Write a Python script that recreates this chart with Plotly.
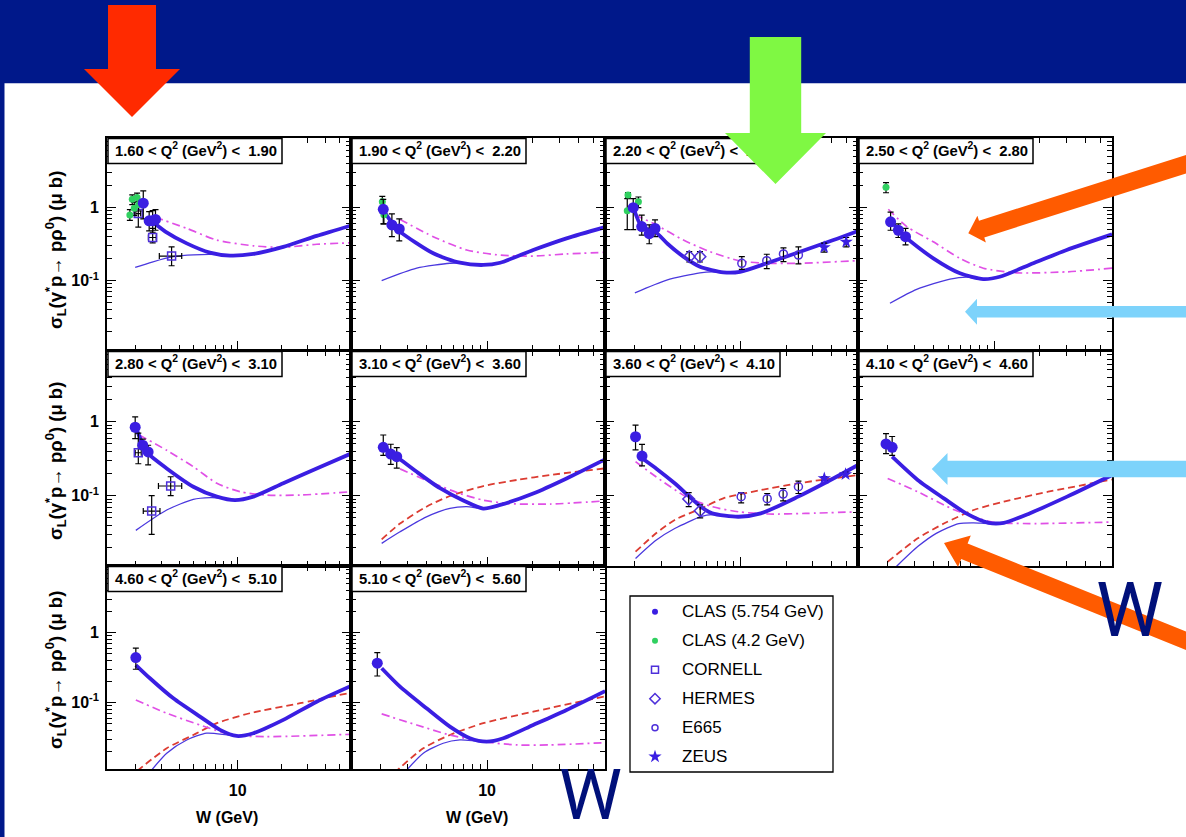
import math
import plotly.graph_objects as go

FIG_W, FIG_H = 1186, 837

# ---------------------------------------------------------------- data
Q2_LOW = [1.60, 1.90, 2.20, 2.50, 2.80, 3.10, 3.60, 4.10, 4.60, 5.10]
Q2_HIGH = [1.90, 2.20, 2.50, 2.80, 3.10, 3.60, 4.10, 4.60, 5.10, 5.60]

# model curves, one list per Q2 bin: W (GeV) and sigma_L (mub)
TOTAL_W = [
    [2.62, 3.2, 4.48, 6.45, 8.85, 12.8, 20.5, 34.7, 59.6],
    [2.08, 2.37, 2.68, 4.43, 6.63, 9.44, 12.2, 20.1, 33.3, 59.6],
    [1.96, 2.23, 2.73, 3.3, 4.2, 5.4, 7.7, 9.93, 14.9, 24.7, 41, 59.6],
    [2.07, 2.6, 3.99, 5.97, 8.5, 10.9, 18.1, 30, 59.6],
    [2.04, 2.24, 2.44, 3.27, 4.97, 7.2, 9.58, 12.8, 20.5, 34.7, 59.6],
    [2.08, 2.55, 3.45, 4.91, 6.98, 9.44, 12.2, 20.1, 33.3, 59.6],
    [2.24, 2.8, 3.68, 5.48, 6.5, 9.7, 13.6, 24, 35.7, 59.6],
    [2.14, 3.15, 4.68, 6.56, 9.2, 11.6, 17.1, 30.2, 59.6],
    [2.01, 2.51, 3.63, 5.52, 7.57, 9.84, 12.8, 20.5, 34.7, 59.6],
    [2.03, 2.68, 4.0, 5.7, 7.72, 9.95, 12.8, 20.1, 33.3, 59.6],
]
TOTAL_SIG = [
    [0.64, 0.47, 0.324, 0.242, 0.22, 0.232, 0.29, 0.41, 0.57],
    [0.93, 0.62, 0.47, 0.237, 0.176, 0.164, 0.176, 0.263, 0.38, 0.54],
    [1.03, 0.55, 0.47, 0.32, 0.213, 0.155, 0.13, 0.132, 0.173, 0.249, 0.36, 0.48],
    [0.68, 0.40, 0.202, 0.126, 0.105, 0.113, 0.173, 0.263, 0.43],
    [0.77, 0.5, 0.37, 0.233, 0.132, 0.097, 0.087, 0.097, 0.147, 0.233, 0.37],
    [0.46, 0.336, 0.21, 0.126, 0.086, 0.067, 0.075, 0.107, 0.171, 0.309],
    [0.32, 0.23, 0.147, 0.071, 0.0576, 0.0519, 0.0576, 0.097, 0.147, 0.26],
    [0.336, 0.163, 0.092, 0.0576, 0.043, 0.043, 0.0576, 0.097, 0.19],
    [0.345, 0.223, 0.115, 0.063, 0.0407, 0.0333, 0.0364, 0.0565, 0.103, 0.173],
    [0.31, 0.169, 0.083, 0.0453, 0.0309, 0.0276, 0.0309, 0.0478, 0.0785, 0.146],
]
THIN_W = [
    [1.99, 2.6, 3.63, 5.0, 7.2, 8.85, 12.8, 20.5, 34.7, 59.6],
    [2.03, 3.45, 5.7, 6.63, 9.44, 12.2, 20.1, 33.3, 59.6],
    [2.01, 3.26, 5.4, 6.5, 7.7, 9.93, 14.9, 24.7, 41, 59.6],
    [2.07, 3.1, 5.13, 6.6, 8.5, 10.9, 18.1, 30, 59.6],
    [2.01, 3.27, 4.97, 6.5, 7.5, 9.58, 12.8, 20.5, 34.7, 59.6],
    [2.03, 2.68, 4.0, 5.7, 7.35, 9.44, 12.2, 20.1, 33.3, 59.6],
    [2.03, 2.77, 3.68, 5.48, 6.5, 8.0, 9.7, 13.6, 24, 35.7, 59.6],
    [2.15, 3.15, 4.17, 5.86, 7.35, 9.2, 11.6, 17.1, 30.2, 59.6],
    [2.45, 3.27, 4.48, 6.14, 8.4, 9.84, 12.8, 20.5, 34.7, 59.6],
    [2.85, 3.81, 5.15, 6.63, 8.4, 9.95, 12.8, 20.1, 33.3, 59.6],
]
THIN_SIG = [
    [0.152, 0.18, 0.213, 0.226, 0.228, 0.219, 0.232, 0.29, 0.41, 0.57],
    [0.10, 0.148, 0.173, 0.174, 0.163, 0.176, 0.263, 0.38, 0.54],
    [0.068, 0.102, 0.128, 0.132, 0.128, 0.132, 0.173, 0.249, 0.36, 0.48],
    [0.049, 0.076, 0.105, 0.112, 0.104, 0.113, 0.173, 0.263, 0.43],
    [0.034, 0.064, 0.089, 0.094, 0.093, 0.087, 0.097, 0.147, 0.233, 0.37],
    [0.0227, 0.0325, 0.0518, 0.0675, 0.071, 0.067, 0.075, 0.107, 0.171, 0.309],
    [0.0142, 0.025, 0.036, 0.052, 0.0555, 0.053, 0.0519, 0.0576, 0.097, 0.147, 0.26],
    [0.0098, 0.0205, 0.031, 0.042, 0.043, 0.042, 0.043, 0.0576, 0.097, 0.19],
    [0.0095, 0.0189, 0.0292, 0.0365, 0.0345, 0.0333, 0.0364, 0.0565, 0.103, 0.173],
    [0.0098, 0.0189, 0.0262, 0.0292, 0.0283, 0.0276, 0.0309, 0.0478, 0.0785, 0.146],
]
DASHDOT_W = [
    [2.72, 4.48, 7.2, 12.8, 20.5, 34.7, 59.6],
    [2.68, 4.43, 7.35, 12.2, 20.1, 33.3, 59.6],
    [2.01, 2.66, 4.2, 6.3, 9.93, 14.9, 24.7, 59.6],
    [2.02, 2.67, 3.99, 5.97, 8.5, 14.1, 30, 59.6],
    [2.12, 3.27, 4.97, 7.2, 10.4, 15.8, 26.7, 59.6],
    [2.68, 4.43, 6.63, 9.44, 14.1, 25.9, 59.6],
    [2.03, 2.77, 4.37, 6.5, 9.7, 15.2, 26.8, 59.6],
    [2.0, 3.15, 5.53, 9.75, 17.1, 59.6],
    [2.01, 3.27, 5.52, 9.3, 15.8, 59.6],
    [2.03, 3.45, 5.7, 9.44, 15.7, 25.9, 59.6],
]
DASHDOT_SIG = [
    [0.74, 0.52, 0.36, 0.30, 0.286, 0.315, 0.33],
    [0.69, 0.40, 0.263, 0.224, 0.217, 0.232, 0.244],
    [0.79, 0.61, 0.36, 0.249, 0.186, 0.173, 0.173, 0.188],
    [0.95, 0.55, 0.34, 0.202, 0.148, 0.128, 0.132, 0.148],
    [0.66, 0.41, 0.246, 0.147, 0.113, 0.102, 0.102, 0.113],
    [0.23, 0.147, 0.107, 0.087, 0.078, 0.077, 0.085],
    [0.288, 0.18, 0.097, 0.071, 0.0606, 0.0565, 0.0576, 0.0606],
    [0.171, 0.113, 0.064, 0.044, 0.042, 0.044],
    [0.109, 0.0705, 0.0478, 0.0344, 0.0326, 0.0352],
    [0.0689, 0.0478, 0.0344, 0.0276, 0.0248, 0.0248, 0.0267],
]
DASHED_W = [
    None, None, None, None, None,
    [2.03, 2.68, 4.0, 5.7, 9.44, 15.7, 25.9, 59.6],
    [2.03, 2.77, 3.68, 5.48, 7.7, 13.6, 24, 59.6],
    [2.0, 3.15, 4.68, 7.35, 11.6, 22.7, 59.6],
    [2.05, 3.27, 4.97, 7.2, 12.1, 26.7, 59.6],
    [2.45, 3.81, 5.7, 9.44, 20.1, 59.6],
]
DASHED_SIG = [
    None, None, None, None, None,
    [0.0257, 0.042, 0.071, 0.099, 0.135, 0.163, 0.19, 0.234],
    [0.0175, 0.031, 0.047, 0.067, 0.092, 0.119, 0.147, 0.19],
    [0.0128, 0.0265, 0.042, 0.064, 0.083, 0.113, 0.165],
    [0.0105, 0.0222, 0.0344, 0.0507, 0.0704, 0.098, 0.139],
    [0.0098, 0.0222, 0.0344, 0.0507, 0.0741, 0.123],
]

# measurements: (bin, W, sigma, err_low, err_high)
CLAS_5754 = [
    (1, 2.26, 1.15, 0.45, 0.55), (1, 2.48, 0.66, 0.18, 0.22), (1, 2.62, 0.66, 0.2, 0.25), (1, 2.74, 0.69, 0.2, 0.25),
    (2, 2.08, 0.95, 0.35, 0.35), (2, 2.37, 0.58, 0.18, 0.24), (2, 2.65, 0.51, 0.16, 0.19),
    (3, 1.96, 1.0, 0.5, 0.33), (3, 2.23, 0.55, 0.13, 0.24), (3, 2.5, 0.44, 0.12, 0.14), (3, 2.73, 0.52, 0.12, 0.16),
    (4, 2.09, 0.64, 0.15, 0.23), (4, 2.35, 0.49, 0.1, 0.11), (4, 2.62, 0.40, 0.09, 0.12),
    (5, 1.99, 0.84, 0.25, 0.32), (5, 2.24, 0.48, 0.06, 0.1), (5, 2.44, 0.39, 0.13, 0.09),
    (6, 2.08, 0.45, 0.1, 0.21), (6, 2.33, 0.365, 0.1, 0.13), (6, 2.55, 0.336, 0.1, 0.11),
    (7, 2.03, 0.625, 0.21, 0.27), (7, 2.24, 0.343, 0.09, 0.15),
    (8, 1.95, 0.50, 0.13, 0.19), (8, 2.14, 0.45, 0.1, 0.18),
    (9, 2.01, 0.44, 0.14, 0.16),
    (10, 1.9, 0.366, 0.126, 0.154),
]
CLAS_42 = [
    (1, 1.83, 0.79, 0.12, 0.15), (1, 1.9, 1.3, 0.2, 0.2), (1, 1.96, 0.98, 0.2, 0.2), (1, 2.05, 1.38, 0.2, 0.2), (1, 2.1, 1.1, 0.2, 0.2),
    (2, 2.05, 1.2, 0.2, 0.23), (2, 2.1, 0.8, 0.2, 0.17),
    (3, 1.81, 1.49, 0.12, 0.12), (3, 1.79, 0.91, 0.41, 0.42), (3, 2.12, 1.2, 0.2, 0.2),
    (4, 1.95, 1.9, 0.3, 0.3),
]
# (bin, W, sigma, err_low, err_high, W_err_low, W_err_high)
CORNELL = [
    (1, 2.09, 0.83, 0.29, 0.37, 0.08, 0.08), (1, 2.62, 0.39, 0.06, 0.13, 0.17, 0.15), (1, 3.53, 0.217, 0.057, 0.073, 0.62, 0.61),
    (5, 2.09, 0.38, 0.11, 0.32, 0.1, 0.1), (5, 3.48, 0.135, 0.035, 0.045, 0.61, 0.66), (5, 2.58, 0.062, 0.032, 0.038, 0.32, 0.36),
]
HERMES = [
    (3, 4.59, 0.213, 0.033, 0.037), (3, 5.4, 0.213, 0.033, 0.037),
    (7, 4.55, 0.09, 0.019, 0.02), (7, 5.42, 0.0625, 0.0125, 0.0125),
]
E665 = [
    (3, 10.2, 0.173, 0.03, 0.04), (3, 14.9, 0.188, 0.042, 0.042), (3, 19.2, 0.232, 0.05, 0.05), (3, 24.1, 0.224, 0.054, 0.066),
    (7, 10.1, 0.097, 0.017, 0.013), (7, 15.0, 0.091, 0.016, 0.016), (7, 19.1, 0.105, 0.02, 0.02), (7, 24.1, 0.132, 0.025, 0.025),
]
ZEUS = [
    (3, 35.6, 0.286, 0.04, 0.04), (3, 49.8, 0.34, 0.05, 0.05),
    (7, 35.7, 0.171, 0.01, 0.01), (7, 49.3, 0.194, 0.012, 0.012),
]
LEGEND_LABELS = ["CLAS (5.754 GeV)", "CLAS (4.2 GeV)", "CORNELL", "HERMES", "E665", "ZEUS"]

# ---------------------------------------------------------------- styling
FONT = "Liberation Sans"
BLUE = "#3A1EE2"
THIN_BLUE = "#4A38DE"
MAGENTA = "#E050E6"
RED = "#DC3C32"
GREEN = "#30D060"
OPEN_BLUE = "#4E30DA"
SLIDE_BLUE = "#00188A"
W_NAVY = "#00107A"

X_RANGE = [0.106, 1.775]
Y_RANGE = [-1.95, 0.954]
COLS = [(107, 351), (351, 605), (605, 858), (858, 1112)]
ROWS = [(138, 350), (351, 566), (566, 769)]
X_MINOR = [2, 3, 4, 5, 6, 7, 8, 9, 20, 30, 40, 50]
Y_MINOR = [0.02, 0.03, 0.04, 0.05, 0.06, 0.07, 0.08, 0.09,
           0.2, 0.3, 0.4, 0.5, 0.6, 0.7, 0.8, 0.9, 2, 3, 4, 5, 6, 7, 8]

OV = ("x11", "y11")  # full-page overlay axes in pixel units

fig = go.Figure()
layout_axes = {}


def panel_pos(k):
    return k // 4, k % 4


for k in range(10):
    r, c = panel_pos(k)
    n = k + 1
    sx = "" if n == 1 else str(n)
    x0, x1 = COLS[c]
    y0, y1 = ROWS[r]
    common = dict(type="log", showline=True, mirror="allticks", linecolor="black", linewidth=1.6,
                  ticks="inside", tickcolor="black", tickwidth=1.2, showgrid=False, zeroline=False,
                  fixedrange=True, tickmode="array",
                  tickfont=dict(family=FONT, size=16, color="black", weight="bold"))
    layout_axes["xaxis" + sx] = dict(
        common, domain=[x0 / FIG_W, x1 / FIG_W], range=X_RANGE, anchor="y" + sx,
        tickvals=[10], ticktext=["10"], ticklen=9, showticklabels=(r == 2), ticklabelstandoff=6,
        minor=dict(tickmode="array", tickvals=X_MINOR, ticks="inside", ticklen=5,
                   tickcolor="black", tickwidth=1, showgrid=False))
    layout_axes["yaxis" + sx] = dict(
        common, domain=[1 - y1 / FIG_H, 1 - y0 / FIG_H], range=Y_RANGE, anchor="x" + sx,
        tickvals=[0.1, 1], ticktext=["10<sup>-1</sup>", "1"], ticklen=9, showticklabels=(c == 0),
        ticklabelstandoff=3,
        minor=dict(tickmode="array", tickvals=Y_MINOR, ticks="inside", ticklen=5,
                   tickcolor="black", tickwidth=1, showgrid=False))

    ax = dict(xaxis="x" + sx, yaxis="y" + sx, hoverinfo="skip", showlegend=False)
    spline = dict(shape="spline", smoothing=0.7)
    fig.add_trace(go.Scatter(x=THIN_W[k], y=THIN_SIG[k], mode="lines",
                             line=dict(color=THIN_BLUE, width=1.3, **spline), **ax))
    if DASHED_W[k] is not None:
        fig.add_trace(go.Scatter(x=DASHED_W[k], y=DASHED_SIG[k], mode="lines",
                                 line=dict(color=RED, width=1.8, dash="7px,4px", **spline), **ax))
    fig.add_trace(go.Scatter(x=DASHDOT_W[k], y=DASHDOT_SIG[k], mode="lines",
                             line=dict(color=MAGENTA, width=1.7, dash="8px,4px,2px,4px", **spline), **ax))
    fig.add_trace(go.Scatter(x=TOTAL_W[k], y=TOTAL_SIG[k], mode="lines",
                             line=dict(color=BLUE, width=3.8, **spline), **ax))

    def rows_for(table):
        return [row for row in table if row[0] == n]

    def add_points(table, marker, xerr=False):
        rows = rows_for(table)
        if not rows:
            return
        kw = {}
        if xerr:
            kw["error_x"] = dict(type="data", array=[t[6] for t in rows], arrayminus=[t[5] for t in rows],
                                 color="black", thickness=1.2, width=3)
        fig.add_trace(go.Scatter(
            x=[t[1] for t in rows], y=[t[2] for t in rows], mode="markers", marker=marker,
            error_y=dict(type="data", array=[t[4] for t in rows], arrayminus=[t[3] for t in rows],
                         color="black", thickness=1.2, width=3),
            **kw, **ax))

    add_points(HERMES, dict(symbol="diamond-open", size=9, color=OPEN_BLUE, line=dict(width=1.5)))
    add_points(E665, dict(symbol="circle-open", size=8, color=OPEN_BLUE, line=dict(width=1.5)))
    add_points(ZEUS, dict(symbol="star", size=10, color=BLUE, line=dict(width=0)))
    add_points(CORNELL, dict(symbol="square-open", size=8, color=OPEN_BLUE, line=dict(width=1.5)), xerr=True)
    add_points(CLAS_42, dict(symbol="circle", size=7, color=GREEN, line=dict(width=0)))
    add_points(CLAS_5754, dict(symbol="circle", size=11, color=BLUE, line=dict(width=0)))

# overlay axes spanning the whole page, in pixel units
layout_axes["xaxis11"] = dict(domain=[0, 1], range=[0, FIG_W], visible=False, fixedrange=True, anchor="y11")
layout_axes["yaxis11"] = dict(domain=[0, 1], range=[FIG_H, 0], visible=False, fixedrange=True, anchor="x11")

shapes = [
    # white slide body
    dict(type="rect", xref="paper", yref="paper", x0=4.5 / FIG_W, x1=1, y0=0, y1=1 - 83.3 / FIG_H,
         fillcolor="white", line=dict(width=0), layer="below"),
]

# Q2 bin boxes and their text
lab_x, lab_y, lab_t = [], [], []
for k in range(10):
    r, c = panel_pos(k)
    x0 = COLS[c][0] + 1
    y0 = ROWS[r][0] + 0.5
    shapes.append(dict(type="rect", xref=OV[0], yref=OV[1], x0=x0, x1=x0 + 174, y0=y0, y1=y0 + 25,
                       fillcolor="white", line=dict(color="black", width=1.5), layer="below"))
    lab_x.append(x0 + 7)
    lab_y.append(y0 + 13.5)
    lab_t.append(f"{Q2_LOW[k]:.2f} < Q<sup>2</sup> (GeV<sup>2</sup>) <  {Q2_HIGH[k]:.2f}")
fig.add_trace(go.Scatter(x=lab_x, y=lab_y, text=lab_t, mode="text", textposition="middle right",
                         textfont=dict(family=FONT, size=14.8, color="black", weight="bold"),
                         xaxis=OV[0], yaxis=OV[1], hoverinfo="skip", showlegend=False))

# legend box
LEG_X0, LEG_X1, LEG_Y0, LEG_Y1 = 630, 833, 596, 772
shapes.append(dict(type="rect", xref=OV[0], yref=OV[1], x0=LEG_X0, x1=LEG_X1, y0=LEG_Y0, y1=LEG_Y1,
                   fillcolor="white", line=dict(color="black", width=1.3), layer="below"))
leg_markers = [
    dict(symbol="circle", size=6, color=BLUE),
    dict(symbol="circle", size=6, color=GREEN),
    dict(symbol="square-open", size=7, color=OPEN_BLUE, line=dict(width=1.5)),
    dict(symbol="diamond-open", size=8, color=OPEN_BLUE, line=dict(width=1.5)),
    dict(symbol="circle-open", size=6, color=OPEN_BLUE, line=dict(width=1.5)),
    dict(symbol="star", size=10, color=BLUE),
]
annotations = []
for i, (lab, mk) in enumerate(zip(LEGEND_LABELS, leg_markers)):
    yy = 611.7 + i * 29.0
    fig.add_trace(go.Scatter(x=[655], y=[yy], mode="markers", marker=mk, xaxis=OV[0], yaxis=OV[1],
                             hoverinfo="skip", showlegend=False))
    annotations.append(dict(xref=OV[0], yref=OV[1], x=680, y=yy, text=lab, showarrow=False,
                            xanchor="left", yanchor="middle",
                            font=dict(family=FONT, size=17, color="black")))

# y-axis titles, x-axis titles
YTITLE = "σ<sub>L</sub>(γ<sup>*</sup>p→ pρ<sup>0</sup>) (μ b)"
for yc in (250, 461, 670):
    annotations.append(dict(xref=OV[0], yref=OV[1], x=55, y=yc, text=YTITLE, showarrow=False,
                            textangle=-90, xanchor="center", yanchor="middle",
                            font=dict(family=FONT, size=18.5, color="black", weight="bold")))
for xc in (227, 477):
    annotations.append(dict(xref=OV[0], yref=OV[1], x=xc, y=817, text="W (GeV)", showarrow=False,
                            xanchor="center", yanchor="middle",
                            font=dict(family=FONT, size=16, color="black", weight="bold")))

# large W marks
annotations.append(dict(xref=OV[0], yref=OV[1], x=1129, y=610, text="W", showarrow=False,
                        xanchor="center", yanchor="middle",
                        font=dict(family="Roboto", size=76, color=W_NAVY)))
annotations.append(dict(xref=OV[0], yref=OV[1], x=590, y=836, text="W", showarrow=False,
                        xanchor="center", yanchor="bottom", borderpad=0, borderwidth=0,
                        font=dict(family="Roboto", size=71, color=W_NAVY)))


def arrow_path(tip, angle_deg, length, shaft_w, head_w, head_len):
    ux, uy = math.cos(math.radians(angle_deg)), math.sin(math.radians(angle_deg))
    nx, ny = -uy, ux
    tx, ty = tip
    bx, by = tx + ux * head_len, ty + uy * head_len
    ex, ey = tx + ux * length, ty + uy * length
    pts = [(bx + nx * head_w / 2, by + ny * head_w / 2), (tx, ty),
           (bx - nx * head_w / 2, by - ny * head_w / 2),
           (bx - nx * shaft_w / 2, by - ny * shaft_w / 2), (ex - nx * shaft_w / 2, ey - ny * shaft_w / 2),
           (ex + nx * shaft_w / 2, ey + ny * shaft_w / 2), (bx + nx * shaft_w / 2, by + ny * shaft_w / 2)]
    return "M" + " L".join(f"{x:.1f},{y:.1f}" for x, y in pts) + " Z"


# slide call-out arrows: (tip, direction to tail, length, shaft, head width, head length, colour)
ARROWS = [
    ((132, 117), -90, 112, 48, 96, 48, "#FF2A00"),
    ((775.5, 184), -90, 147, 51.5, 101, 51, "#7FF843"),
    ((968.3, 233.3), -17.6, 260, 17.5, 28, 14, "#FF5B00"),
    ((965, 311.7), 0, 240, 11.5, 26, 12, "#7DD3FB"),
    ((931.8, 469), 0, 270, 16.6, 31.7, 15.7, "#7DD3FB"),
    ((944, 543), 22, 300, 17, 34, 22, "#FF5B00"),
]
for tip, ang, ln, sw, hw, hl, col in ARROWS:
    shapes.append(dict(type="path", xref=OV[0], yref=OV[1], path=arrow_path(tip, ang, ln, sw, hw, hl),
                       fillcolor=col, line=dict(width=0), layer="above"))

fig.update_layout(
    width=FIG_W, height=FIG_H, autosize=False, template="none",
    margin=dict(l=0, r=0, t=0, b=0, pad=0),
    paper_bgcolor=SLIDE_BLUE, plot_bgcolor="rgba(0,0,0,0)",
    showlegend=False, hovermode=False,
    shapes=shapes, annotations=annotations,
    **layout_axes,
)

fig.write_html("out.html")
